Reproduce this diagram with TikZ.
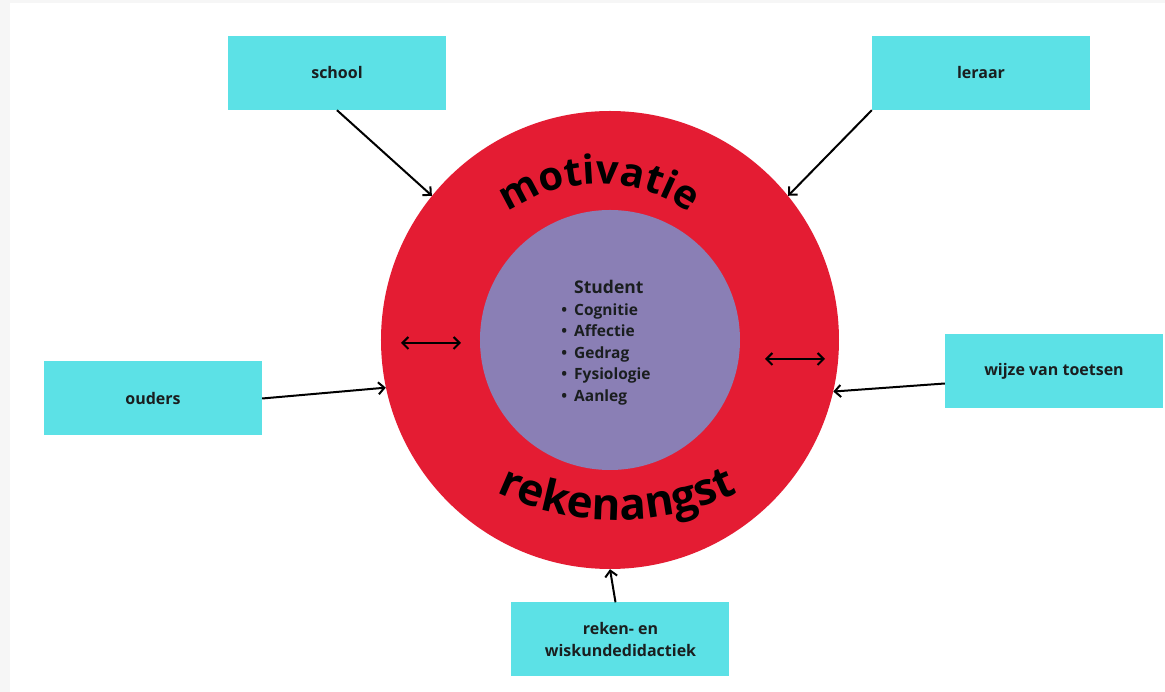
\documentclass[tikz,border=0pt]{standalone}
\usepackage{fontspec}
\setmainfont{Open Sans}
\usetikzlibrary{arrows.meta,decorations.text}
\definecolor{boxcyan}{HTML}{5CE1E6}
\definecolor{ringred}{HTML}{E41C33}
\definecolor{corepurple}{HTML}{8A7FB5}
\definecolor{pagegray}{HTML}{F6F6F6}
\definecolor{inkdark}{HTML}{1A1E1F}
\tikzset{
  factor/.style={fill=boxcyan, minimum width=218pt, minimum height=74pt, align=center, text=inkdark, font=\fontsize{16}{22}\selectfont\bfseries},
  link/.style={line width=2pt, -{Straight Barb[length=6pt,width=12pt]}},
  mutual/.style={line width=2pt, {Straight Barb[length=6pt,width=12pt]}-{Straight Barb[length=6pt,width=12pt]}},
}
\begin{document}
\begin{tikzpicture}[x=1pt,y=1pt]
    \fill [pagegray] (-610,340) rectangle (555,-352);
    \fill [white] (-600,337) rectangle (555,-352);
    \useasboundingbox (-610,340) rectangle (555,-352);
    \node [circle,fill=ringred,minimum size=458pt,inner sep=0pt] (ring) at (0,0) {};
    \node [circle,fill=corepurple,minimum size=260pt,inner sep=0pt] (core) at (0,0) {};
    \node [text=inkdark,font=\fontsize{15.5}{21.5}\selectfont\bfseries] (list) at (-4,-3) {\begin{tabular}{@{}l@{\hspace{7pt}}l@{}}
        & {\fontsize{17.5}{17.5}\selectfont Student}\\
        \textbullet & Cognitie\\
        \textbullet & Affectie\\
        \textbullet & Gedrag\\
        \textbullet & Fysiologie\\
        \textbullet & Aanleg
    \end{tabular}};
    \path [decorate,decoration={text along path,text align=center,text={|\fontsize{40}{40}\selectfont\bfseries|motivatie}}]
        (-11,-2) ++(150:158) arc [start angle=150,end angle=30,radius=158pt];
    \path [decorate,decoration={text along path,text align=center,text={|\fontsize{44}{44}\selectfont\bfseries|rekenangst}}]
        (7,100) ++(240:280) arc [start angle=240,end angle=300,radius=280pt];
    \node [factor] (school) at (-273,267) {school};
    \node [factor] (leraar) at (371,267) {leraar};
    \node [factor] (ouders) at (-457,-58.5) {ouders};
    \node [factor] (toetsen) at (444,-31.5) {wijze van toetsen};
    \node [factor] (didactiek) at (10.5,-299.5) {reken- en\\wiskundedidactiek};
    \draw [link] (school.south) -- (ring.141);
    \draw [link] (leraar.south west) -- (ring.39);
    \draw [link] (ouders.east) -- (ring.192);
    \draw [link] ([yshift=-12pt]toetsen.west) -- (ring.347);
    \draw [link] ([xshift=-5pt]didactiek.north) -- (ring.south);
    \coordinate (inL) at (-209,-3);
    \coordinate (outL) at (-149,-3);
    \coordinate (inR) at (155,-19);
    \coordinate (outR) at (215,-19);
    \draw [mutual] (inL) -- (outL);
    \draw [mutual] (inR) -- (outR);
\end{tikzpicture}
\end{document}
